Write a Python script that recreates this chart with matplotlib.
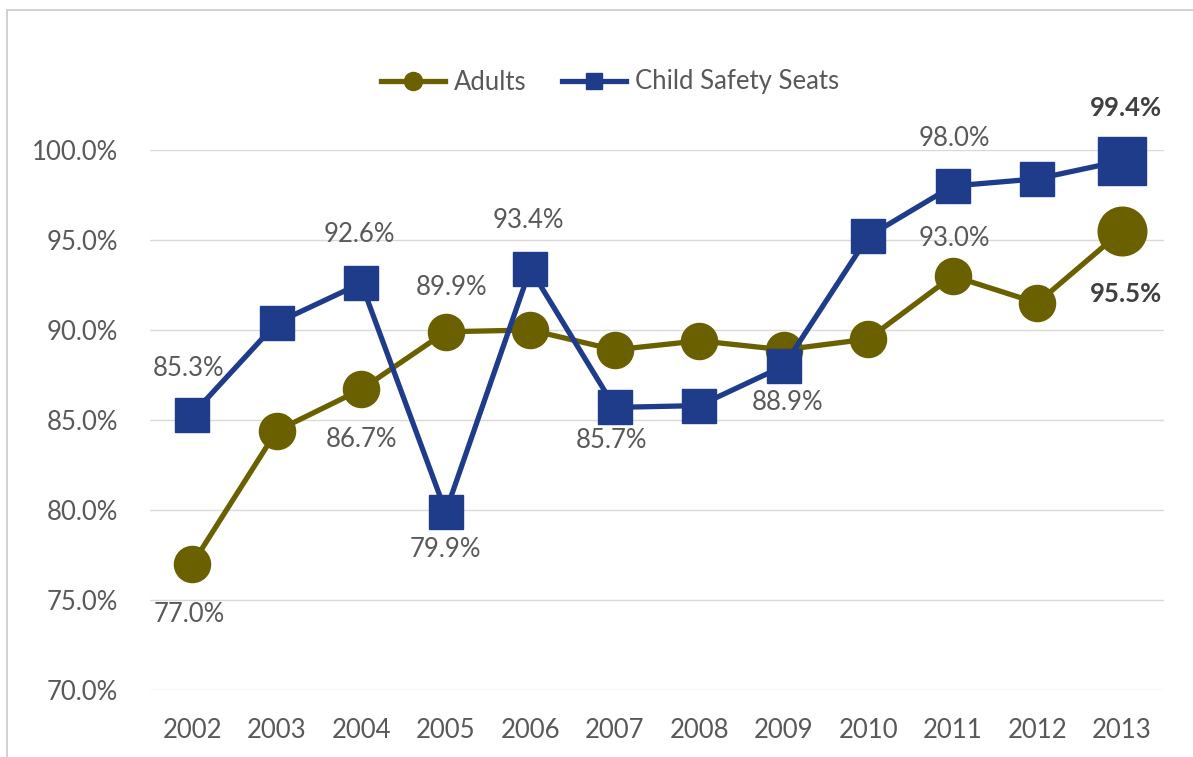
import matplotlib
matplotlib.use("Agg")
import matplotlib.pyplot as plt
from matplotlib.patches import Rectangle
from matplotlib.lines import Line2D

years = [2002, 2003, 2004, 2005, 2006, 2007, 2008, 2009, 2010, 2011, 2012, 2013]
adults = [77.0, 84.4, 86.7, 89.9, 90.0, 88.9, 89.4, 88.9, 89.5, 93.0, 91.5, 95.5]
child_seats = [85.3, 90.4, 92.6, 79.9, 93.4, 85.7, 85.8, 88.0, 95.2, 98.0, 98.4, 99.4]
y_ticks = [70, 75, 80, 85, 90, 95, 100]

# (series, index, offset in points, bold)
labels = [
    ("c", 0, (-3, 33), False),
    ("c", 2, (-1, 35), False),
    ("a", 3, (4, 32), False),
    ("c", 4, (-1, 35), False),
    ("a", 2, (0, -36), False),
    ("c", 3, (0, -27), False),
    ("a", 0, (-2, -36), False),
    ("c", 5, (-2, -24), False),
    ("a", 7, (3, -38), False),
    ("c", 9, (1, 34), False),
    ("a", 9, (1, 27), False),
    ("c", 11, (3, 38), True),
    ("a", 11, (3, -45), True),
]

OLIVE = "#6b6000"
BLUE = "#1f3c8a"
TXT = "#595959"
FS = 18.5

plt.rcParams["font.family"] = ["Lato", "DejaVu Sans"]

fig = plt.figure(figsize=(11.93, 7.57), dpi=100)
fig.patches.append(Rectangle((7 / 1193, -0.1), 1.2, (757 - 10) / 757 + 0.1,
                             transform=fig.transFigure, fill=False,
                             edgecolor="#c8c8c8", linewidth=1.2))
ax = fig.add_axes([150 / 1193, 1 - 690 / 757, (1164 - 150) / 1193, (690 - 150) / 757])

x = list(range(len(years)))
ax.plot(x, adults, color=OLIVE, lw=3.8, marker="o", ms=26, mfc=OLIVE, mec=OLIVE,
        clip_on=False, zorder=3)
ax.plot(x[-1], adults[-1], marker="o", ms=35, color=OLIVE, clip_on=False, zorder=3)
ax.plot(x, child_seats, color=BLUE, lw=3.8, marker="s", ms=24, mfc=BLUE, mec=BLUE,
        clip_on=False, zorder=4)
ax.plot(x[-1], child_seats[-1], marker="s", ms=34, color=BLUE, clip_on=False, zorder=4)

for s, i, off, bold in labels:
    v = adults[i] if s == "a" else child_seats[i]
    ax.annotate(f"{v:.1f}%", (x[i], v), xytext=off, textcoords="offset points",
                ha="center", va="center", fontsize=FS, color="#404040" if bold else TXT,
                fontweight="bold" if bold else "normal", zorder=5)

ax.set_xlim(-0.5, len(years) - 0.5)
ax.set_ylim(70, 100)
ax.set_yticks(y_ticks)
ax.set_yticklabels([f"{v:.1f}%" for v in y_ticks])
ax.set_xticks(x)
ax.set_xticklabels([str(y) for y in years])
ax.tick_params(axis="both", length=0, labelsize=FS, labelcolor=TXT)
ax.tick_params(axis="y", pad=23)
ax.tick_params(axis="x", pad=20)
ax.grid(axis="y", color="#d9d9d9", lw=1)
ax.set_axisbelow(True)
for sp in ax.spines.values():
    sp.set_visible(False)

handles = [
    Line2D([0], [0], color=OLIVE, lw=3.8, marker="o", ms=13),
    Line2D([0], [0], color=BLUE, lw=3.8, marker="s", ms=11),
]
fig.legend(handles, ["Adults", "Child Safety Seats"], loc="center",
           bbox_to_anchor=(610 / 1193, 1 - 82 / 757), ncol=2, frameon=False,
           fontsize=FS, labelcolor=TXT, handlelength=2.5, handletextpad=0.35,
           columnspacing=1.35)

fig.savefig("out.png", dpi=100, facecolor="white")
